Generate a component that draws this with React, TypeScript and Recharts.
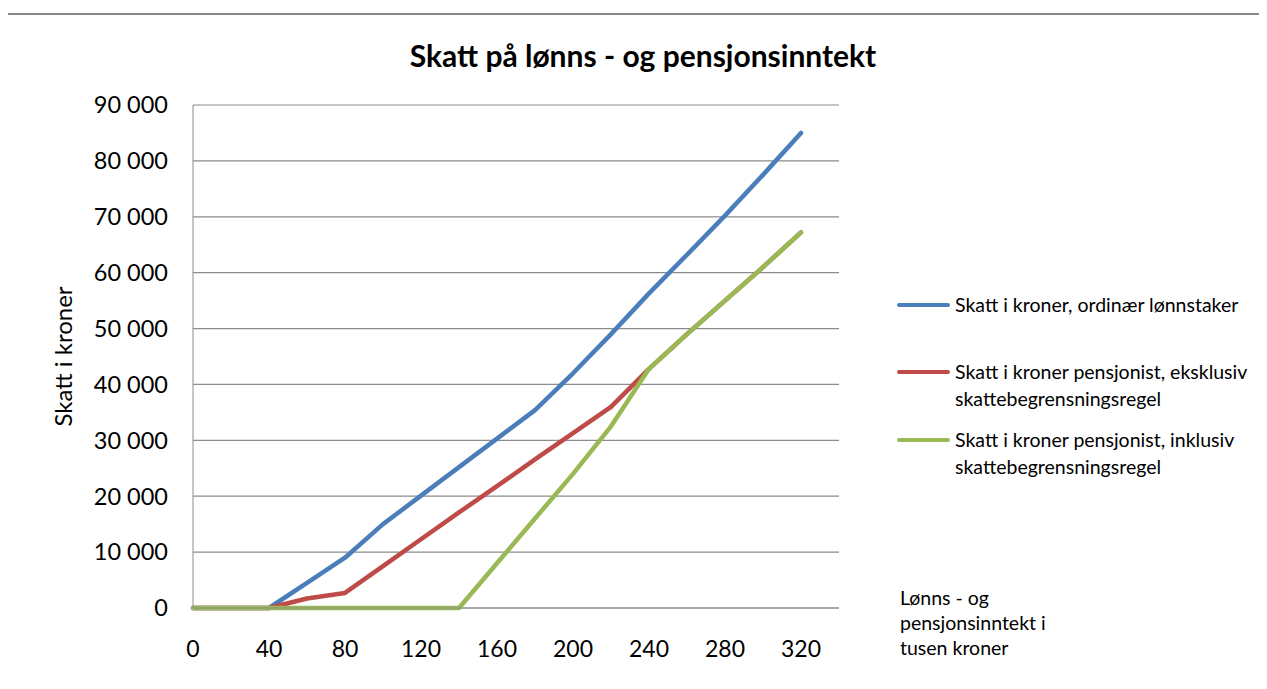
import { LineChart, Line, XAxis, YAxis, CartesianGrid } from "recharts";

const income = [0, 20, 40, 60, 80, 100, 120, 140, 160, 180, 200, 220, 240, 260, 280, 300, 320];
const ordinary = [0, 0, 0, 4500, 9000, 15000, 20100, 25200, 30300, 35400, 42000, 49000, 56300, 63200, 70200, 77500, 85000];
const pensionExcl = [0, 0, 0, 1700, 2700, 7500, 12300, 17100, 21800, 26600, 31300, 36000, 42800, 49000, 55000, 61000, 67200];
const pensionIncl = [0, 0, 0, 0, 0, 0, 0, 0, 8000, 16000, 24000, 32500, 42800, 49000, 55000, 61000, 67200];

const xTicks = [0, 40, 80, 120, 160, 200, 240, 280, 320];
const yTicks = [0, 10000, 20000, 30000, 40000, 50000, 60000, 70000, 80000, 90000];

const series = [
  { key: "ordinary", color: "#4a7ebb", lines: ["Skatt i kroner, ordinær lønnstaker"] },
  { key: "pensionExcl", color: "#be4b48", lines: ["Skatt i kroner pensjonist, eksklusiv", "skattebegrensningsregel"] },
  { key: "pensionIncl", color: "#98b954", lines: ["Skatt i kroner pensjonist, inklusiv", "skattebegrensningsregel"] },
];

const data = income.map((x, i) => ({
  x,
  ordinary: ordinary[i],
  pensionExcl: pensionExcl[i],
  pensionIncl: pensionIncl[i],
}));

const fmt = (v: number) => String(v).replace(/\B(?=(\d{3})+(?!\d))/g, " ");

// top of each legend entry, relative to the framed box
const legendTops = [277, 344, 412];

export default function App() {
  return (
    <div
      style={{
        position: "relative",
        left: -4,
        top: 5,
        width: 1259,
        height: 670,
        fontFamily: "Lato, sans-serif",
        color: "#000",
        background: "#fff",
      }}
    >
      <div style={{ position: "absolute", left: 0, top: 0, width: 1259, height: 2, background: "#868686" }} />
      <div style={{ position: "absolute", left: 0, top: 0, width: 2, height: 670, background: "#868686" }} />
      <div style={{ position: "absolute", left: 1257, top: 0, width: 2, height: 670, background: "#868686" }} />
      <div
        style={{
          position: "absolute",
          left: 139,
          width: 1000,
          top: 24,
          lineHeight: "36px",
          textAlign: "center",
          fontSize: 30,
          fontWeight: 700,
        }}
      >
        Skatt på lønns - og pensjonsinntekt
      </div>
      <div style={{ position: "absolute", left: 1, top: 1 }}>
        <LineChart width={1250} height={668} data={data} margin={{ top: 91, right: 416, left: 0, bottom: 34 }}>
          <CartesianGrid vertical={false} stroke="#8c8c8c" strokeWidth={1.2} />
          <XAxis
            dataKey="x"
            type="number"
            domain={[0, 340]}
            ticks={xTicks}
            height={40}
            tickLine={false}
            tickSize={6}
            tickMargin={27}
            stroke="#8c8c8c"
            tick={{ fill: "#000", fontSize: 23, fontFamily: "Lato" }}
          />
          <YAxis
            width={188}
            domain={[0, 90000]}
            ticks={yTicks}
            tickFormatter={fmt}
            tickLine={false}
            tickSize={6}
            tickMargin={19}
            stroke="#8c8c8c"
            tick={{ fill: "#000", fontSize: 23.5, fontFamily: "Lato" }}
            label={{
              content: (props: any) => {
                const vb = props.viewBox || { y: 91, height: 503 };
                const cy = vb.y + vb.height / 2;
                return (
                  <text
                    x={57}
                    y={cy}
                    transform={`rotate(-90 57 ${cy})`}
                    textAnchor="middle"
                    dominantBaseline="central"
                    fontSize={24}
                    fontFamily="Lato"
                    fill="#000"
                  >
                    Skatt i kroner
                  </text>
                );
              },
            }}
          />
          {series.map((s) => (
            <Line
              key={s.key}
              dataKey={s.key}
              stroke={s.color}
              strokeWidth={4.5}
              strokeLinecap="round"
              strokeLinejoin="round"
              dot={false}
              isAnimationActive={false}
            />
          ))}
        </LineChart>
      </div>
      {series.map((s, i) => (
        <div key={s.key} style={{ position: "absolute", left: 893, top: legendTops[i] + 1, fontSize: 19.5, lineHeight: "27px" }}>
          <div
            style={{
              position: "absolute",
              left: 0,
              top: 12,
              width: 53,
              height: 3.5,
              background: s.color,
              borderRadius: 2,
            }}
          />
          <div style={{ marginLeft: 58, whiteSpace: "nowrap" }}>
            {s.lines.map((l) => (
              <div key={l}>{l}</div>
            ))}
          </div>
        </div>
      ))}
      <div style={{ position: "absolute", left: 896, top: 572, fontSize: 19.5, lineHeight: "25px" }}>
        <div>Lønns - og</div>
        <div>pensjonsinntekt i</div>
        <div>tusen kroner</div>
      </div>
    </div>
  );
}
